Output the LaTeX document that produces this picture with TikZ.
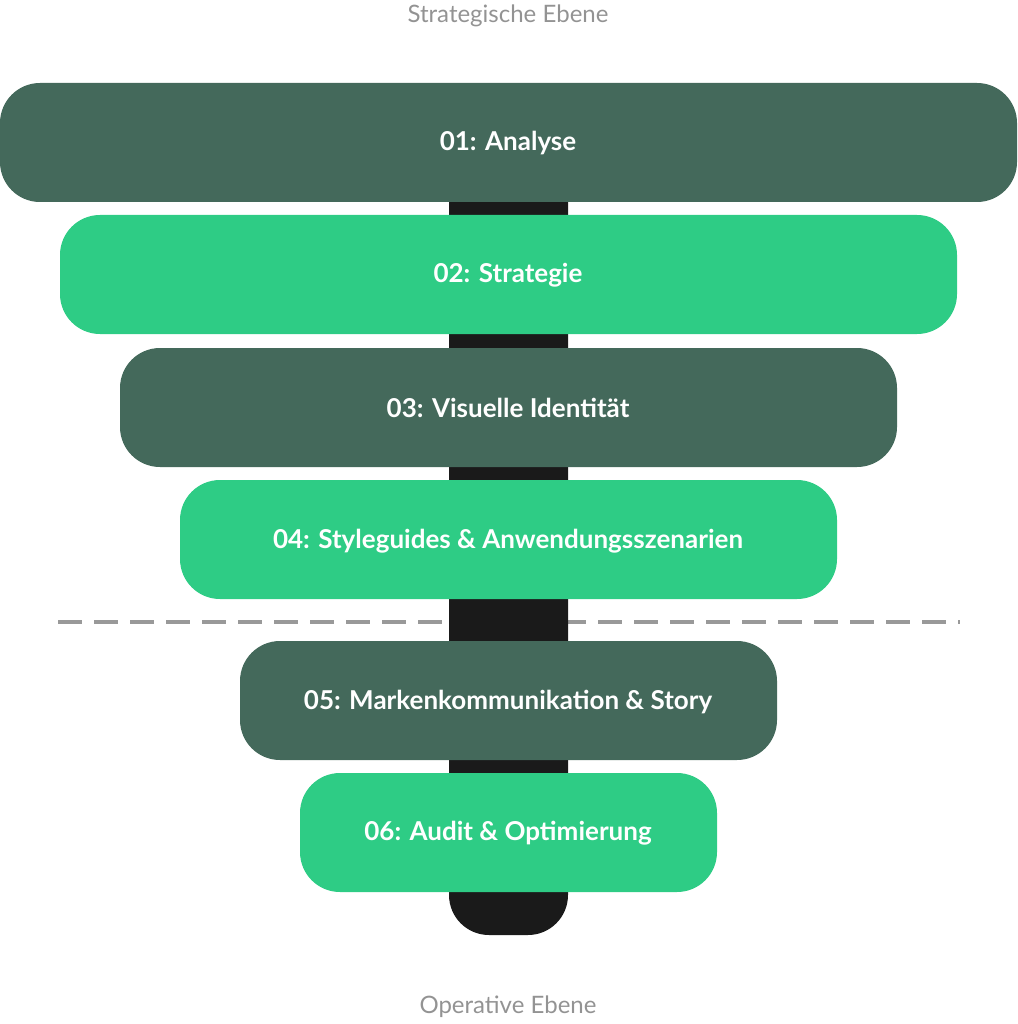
\documentclass[tikz,border=0pt]{standalone}
\usepackage{fontspec}
\setmainfont{Lato}
\begin{document}
\begin{tikzpicture}[x=1pt,y=-1pt,
  bar/.style={rounded corners=40pt},
  lbl/.style={text=white,font=\fontsize{26}{30}\selectfont\bfseries},
  levelcap/.style={text=gray!85,font=\fontsize{24}{28}\selectfont}]
\useasboundingbox (0,0) rectangle (1017,1024);
\definecolor{dk}{HTML}{44695B}
\definecolor{lt}{HTML}{2ECC85}
\definecolor{st}{HTML}{1A1A1A}
\node[levelcap] (top) at (508,16) {Strategische Ebene};
\node[levelcap] (bot) at (508,1007) {Operative Ebene};
\draw[gray!80,line width=3.5pt,dash pattern=on 24pt off 12pt] (58,622) coordinate (dl) -- (960,622) coordinate (dr);
\fill[st,rounded corners=40pt] (449,150) rectangle (568,935);
\fill[dk,bar] (0,83) rectangle (1017,202);
\fill[lt,bar] (60,215) rectangle (957,334);
\fill[dk,bar] (120,348) rectangle (897,467);
\fill[lt,bar] (180,480) rectangle (837,599);
\fill[dk,bar] (240,641) rectangle (777,760);
\fill[lt,bar] (300,773) rectangle (717,892);
\node[lbl] (a) at (508,143) {01: Analyse};
\node[lbl] (b) at (508,275) {02: Strategie};
\node[lbl] (c) at (508,408) {03: Visuelle Identität};
\node[lbl] (d) at (508,541) {04: Styleguides \& Anwendungsszenarien};
\node[lbl] (e) at (508,702) {05: Markenkommunikation \& Story};
\node[lbl] (f) at (508,833) {06: Audit \& Optimierung};
\end{tikzpicture}
\end{document}
